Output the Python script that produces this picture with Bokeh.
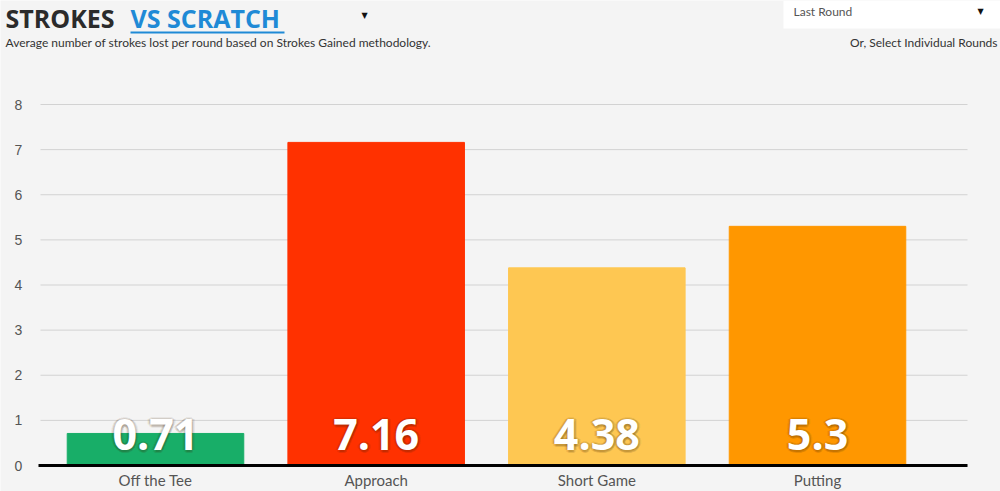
from bokeh.plotting import figure
from bokeh.models import Range1d, Label, ColumnDataSource, BoxAnnotation
from bokeh.core.properties import value
from bokeh.embed import file_html
from bokeh.resources import INLINE

# ---- data ----
categories = ["Off the Tee", "Approach", "Short Game", "Putting"]
strokes_lost = [0.71, 7.16, 4.38, 5.3]
value_labels = ["0.71", "7.16", "4.38", "5.3"]
bar_colors = ["#18ae68", "#ff3100", "#fec752", "#ff9700"]
y_ticks = [0, 1, 2, 3, 4, 5, 6, 7, 8]
y_tick_labels = ["0", "1", "2", "3", "4", "5", "6", "7", "8"]

title_dark = "STROKES"
title_blue = "VS SCRATCH"
subtitle = "Average number of strokes lost per round based on Strokes Gained methodology."
dropdown_text = "Last Round"
select_text = "Or, Select Individual Rounds"

# ---- layout (frame fills the whole canvas) ----
W, H = 1000, 491
PX_PER_UNIT = 45.125          # vertical pixels per stroke
ZERO_PY = 465                 # pixel row of the zero line
BAR_STEP = 220.67             # pixels between category centres
FIRST_PX = 155                # pixel column of the first category centre
x0, x1 = -FIRST_PX / BAR_STEP, (W - FIRST_PX) / BAR_STEP
y0, y1 = -(H - ZERO_PY) / PX_PER_UNIT, ZERO_PY / PX_PER_UNIT
BG = "#f4f4f4"

def X(px):
    return x0 + px / W * (x1 - x0)

def Y(py):
    return y1 - py / H * (y1 - y0)

xs = list(range(len(categories)))
src = ColumnDataSource(dict(x=xs, top=strokes_lost, color=bar_colors, label=value_labels,
                            label_y=[Y(434)] * len(xs), cat=categories,
                            cat_y=[Y(479)] * len(xs)))
tick_src = ColumnDataSource(dict(y=y_ticks, text=y_tick_labels,
                                 x=[X(18)] * len(y_ticks),
                                 gx0=[X(40)] * len(y_ticks), gx1=[X(967)] * len(y_ticks)))

p = figure(width=W, height=H, output_backend="svg", toolbar_location=None,
           x_range=Range1d(x0, x1), y_range=Range1d(y0, y1),
           min_border=0, min_border_left=0, min_border_right=0,
           min_border_top=0, min_border_bottom=0)
p.axis.visible = False
p.grid.visible = False
p.background_fill_color = BG
p.border_fill_color = BG
p.outline_line_color = None

# grid lines and tick labels from the tick list
p.segment(x0="gx0", y0="y", x1="gx1", y1="y", source=tick_src,
          line_color="#d2d2d2", line_width=1)
p.text(x="x", y="y", text="text", source=tick_src, text_align="center",
       text_baseline="middle", text_font=value("Liberation Sans"),
       text_font_size="14px", text_color="#555555")

# bars
p.vbar(x="x", top="top", bottom=0, width=0.8, color="color", source=src)

# baseline
p.segment(x0=[X(38)], y0=[0], x1=[X(967)], y1=[0], line_color="black", line_width=3)

# category labels
p.text(x="x", y="cat_y", text="cat", source=src, text_align="center",
       text_baseline="middle", text_font=value("Lato"), text_font_size="15px",
       text_color="#555555")

# value labels with soft shadow
for dx, dy in [(-2, 0), (2, 0), (0, -2), (0, 2), (-1.5, -1.5), (1.5, 1.5),
               (-1.5, 1.5), (1.5, -1.5), (0, 3), (3, 0), (-3, 0), (1, 3)]:
    p.text(x="x", y="label_y", text="label", source=src, x_offset=dx, y_offset=dy,
           text_align="center", text_baseline="middle",
           text_font=value("Open Sans"), text_font_style="bold",
           text_font_size="43px", text_color="#3a2000", text_alpha=0.08)
p.text(x="x", y="label_y", text="label", source=src,
       text_align="center", text_baseline="middle",
       text_font=value("Open Sans"), text_font_style="bold",
       text_font_size="43px", text_color="white")

# header
p.add_layout(Label(x=X(5), y=Y(17), text=title_dark, text_font="Open Sans",
                   text_font_style="bold", text_font_size="25px", text_color="#2b2b2b",
                   text_baseline="middle", text_align="left"))
p.add_layout(Label(x=X(130), y=Y(17), text=title_blue, text_font="Open Sans",
                   text_font_style="bold", text_font_size="25px", text_color="#1f8ad6",
                   text_baseline="middle", text_align="left"))
p.add_layout(BoxAnnotation(left=X(130), right=X(284), top=Y(31), bottom=Y(33),
                           fill_color="#1f8ad6", fill_alpha=1, line_color=None))
p.add_layout(Label(x=X(364), y=Y(15), text="▼", text_font="DejaVu Sans",
                   text_font_size="8px", text_color="#111111",
                   text_align="center", text_baseline="middle"))
p.add_layout(Label(x=X(5), y=Y(42), text=subtitle, text_font="Lato",
                   text_font_size="12px", text_color="#333333",
                   text_baseline="middle", text_align="left"))
p.add_layout(BoxAnnotation(left=X(783), right=X(1000), top=Y(0), bottom=Y(28),
                           fill_color="white", fill_alpha=1, line_color=None))
p.add_layout(Label(x=X(793), y=Y(11), text=dropdown_text, text_font="Lato",
                   text_font_size="12px", text_color="#555555",
                   text_baseline="middle", text_align="left"))
p.add_layout(Label(x=X(980), y=Y(11), text="▼", text_font="DejaVu Sans",
                   text_font_size="8px", text_color="#111111",
                   text_align="center", text_baseline="middle"))
p.add_layout(Label(x=X(997), y=Y(42), text=select_text, text_font="Lato",
                   text_font_size="12px", text_color="#333333",
                   text_baseline="middle", text_align="right"))

open("out.html", "w").write(file_html(p, INLINE))
